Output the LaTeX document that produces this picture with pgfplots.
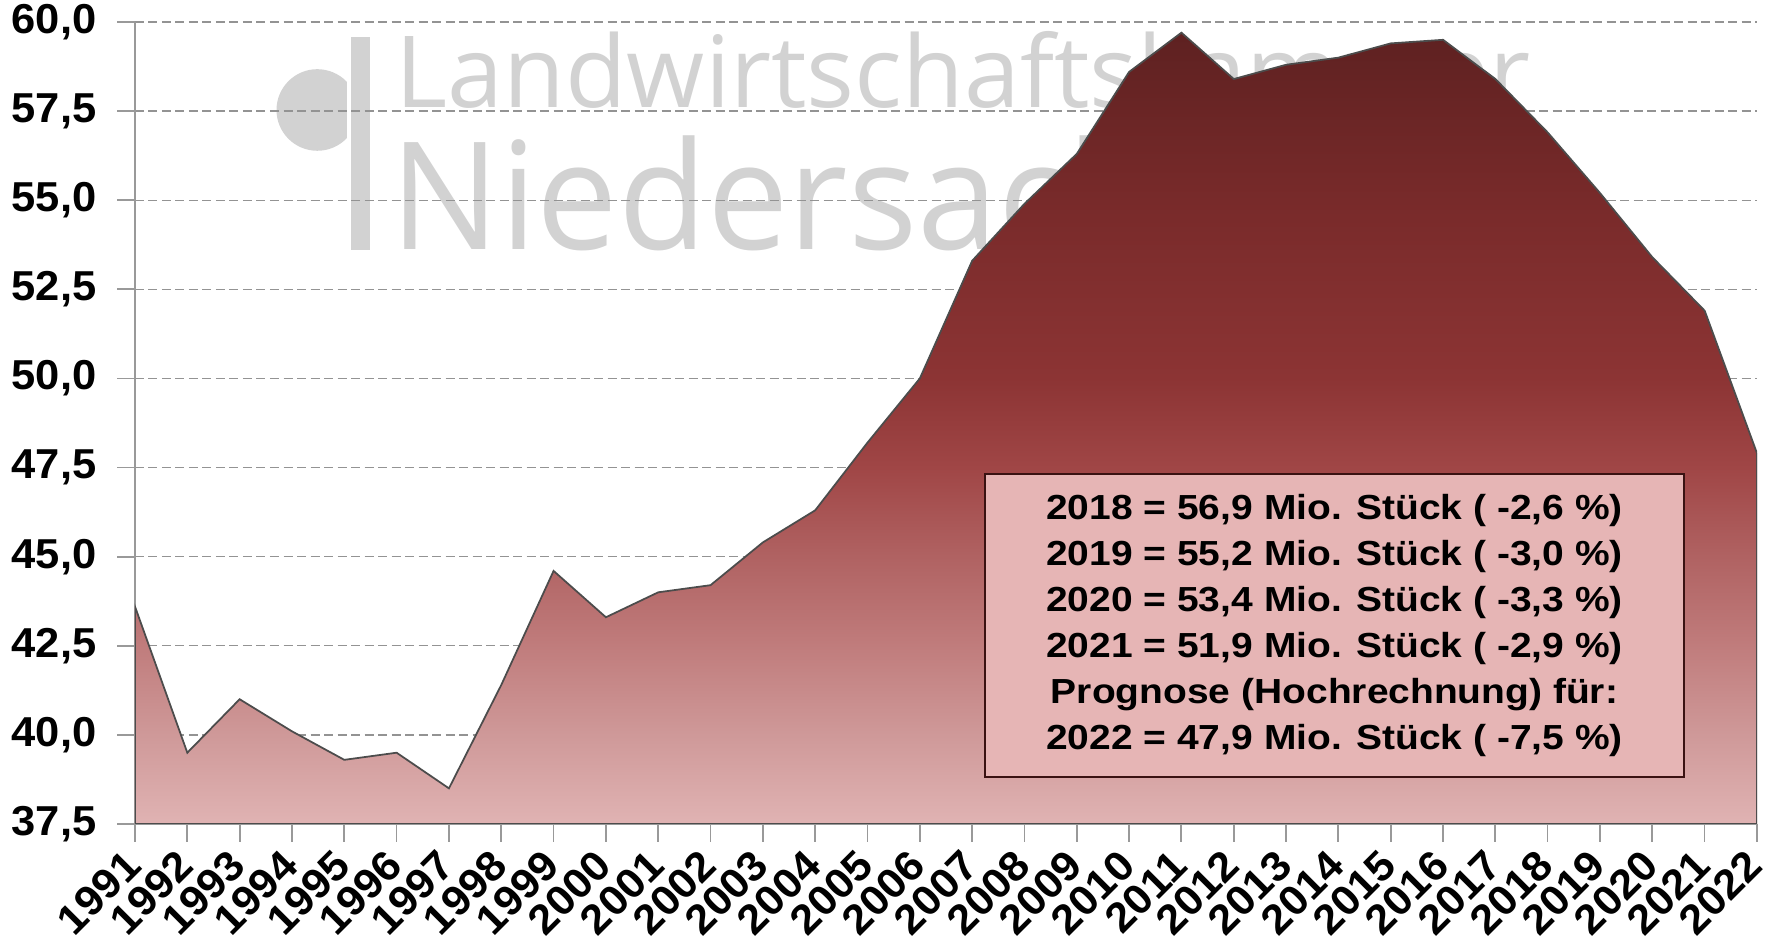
\documentclass[border=0pt]{standalone}
\usepackage{pgfplots}
\pgfplotsset{compat=1.18}
\usepackage{fontspec}
\setmainfont{Liberation Sans}[FakeStretch=1.04]
\newfontfamily\boxfont{Liberation Sans}[FakeStretch=1.12]
\newfontfamily\wmfonta{Open Sans}[FakeStretch=1.01]
\newfontfamily\wmfontb{Open Sans}[FakeStretch=0.97]

\definecolor{wm}{HTML}{D2D2D2}
\definecolor{boxfill}{HTML}{E6B5B5}
\definecolor{boxborder}{HTML}{3A1212}
\definecolor{sa}{HTML}{E0B3B3}
\definecolor{sb}{HTML}{CF9999}
\definecolor{sc}{HTML}{C07C7C}
\definecolor{sd}{HTML}{B06262}
\definecolor{se}{HTML}{A04646}
\definecolor{sf}{HTML}{8C3434}
\definecolor{sg}{HTML}{782A2A}
\definecolor{sh}{HTML}{5E2121}

\pgfdeclareverticalshading{areashade}{100bp}{%
color(0bp)=(sa); color(25bp)=(sa); color(30.6bp)=(sb); color(36.3bp)=(sc);
color(41.9bp)=(sd); color(47.5bp)=(se); color(53.2bp)=(sf); color(64.4bp)=(sg);
color(75bp)=(sh); color(100bp)=(sh)}

\begin{document}
\begin{tikzpicture}
% watermark (logo)
\fill[wm] (18.23mm,71.4mm) circle (4.08mm);
\fill[white] (21.2mm,57.4mm) rectangle (23.5mm,78.73mm);
\fill[wm] (21.57mm,57.4mm) rectangle (23.5mm,78.73mm);
\node[anchor=base west, inner sep=0pt, text=wm, font=\wmfonta\fontsize{28.3}{30}\selectfont] at (26.0mm,71.6mm) {Landwirtschaftskammer};
\node[anchor=base west, inner sep=0pt, text=wm, font=\wmfontb\fontsize{42.6}{44}\selectfont] at (25.5mm,57.4mm) {Niedersachsen};

\begin{axis}[
  at={(0,0)}, anchor=south west,
  width=162.2mm, height=80.2mm, scale only axis,
  xmin=1991, xmax=2022, ymin=37.5, ymax=60,
  axis x line*=bottom, axis y line*=left,
  axis line style={draw=gray!80, line width=0.5pt, -},
  xtick={1991,...,2022},
  ytick={37.5,40,42.5,45,47.5,50,52.5,55,57.5,60},
  yticklabels={{37,5},{40,0},{42,5},{45,0},{47,5},{50,0},{52,5},{55,0},{57,5},{60,0}},
  tick align=outside, major tick length=1.8mm,
  tick style={draw=gray!80, line width=0.5pt},
  ymajorgrids,
  major grid style={draw=gray!85, line width=0.4pt, dash pattern=on 0.9mm off 0.45mm},
  /pgf/number format/1000 sep={},
  /pgf/number format/assume math mode=true,
  yticklabel style={font=\fontsize{11.9}{12}\selectfont\bfseries, inner sep=0pt, anchor=east, xshift=-2.0mm},
  xticklabel style={font=\fontsize{11.9}{12}\selectfont\bfseries, inner sep=0pt, anchor=east, xshift=-0.15mm, yshift=-1.6mm, rotate=45},
]
\addplot[draw=gray!60!black, line width=0.5pt, shade, shading=areashade] coordinates {
(1991,37.5)
(1991,43.6) (1992,39.5) (1993,41.0) (1994,40.1) (1995,39.3) (1996,39.5)
(1997,38.5) (1998,41.4) (1999,44.6) (2000,43.3) (2001,44.0) (2002,44.2)
(2003,45.4) (2004,46.3) (2005,48.2) (2006,50.0) (2007,53.3) (2008,54.9)
(2009,56.3) (2010,58.6) (2011,59.7) (2012,58.4) (2013,58.8) (2014,59.0)
(2015,59.4) (2016,59.5) (2017,58.4) (2018,56.9) (2019,55.2) (2020,53.4)
(2021,51.9) (2022,47.9)
(2022,37.5)
} -- cycle;
\end{axis}

\node[draw=boxborder, line width=0.6pt, fill=boxfill, minimum width=69.9mm, minimum height=30.3mm,
  align=center, font=\boxfont\bfseries\fontsize{9.9}{13.1}\selectfont] at (119.95mm,19.85mm)
  {2018 = 56,9 Mio. Stück ( -2,6 \%)\\
   2019 = 55,2 Mio. Stück ( -3,0 \%)\\
   2020 = 53,4 Mio. Stück ( -3,3 \%)\\
   2021 = 51,9 Mio. Stück ( -2,9 \%)\\
   Prognose (Hochrechnung) für:\\
   2022 = 47,9 Mio. Stück ( -7,5 \%)};

\pgfresetboundingbox
\path (-13.5mm,-11.5mm) rectangle (164.4mm,82.4mm);
\end{tikzpicture}
\end{document}
